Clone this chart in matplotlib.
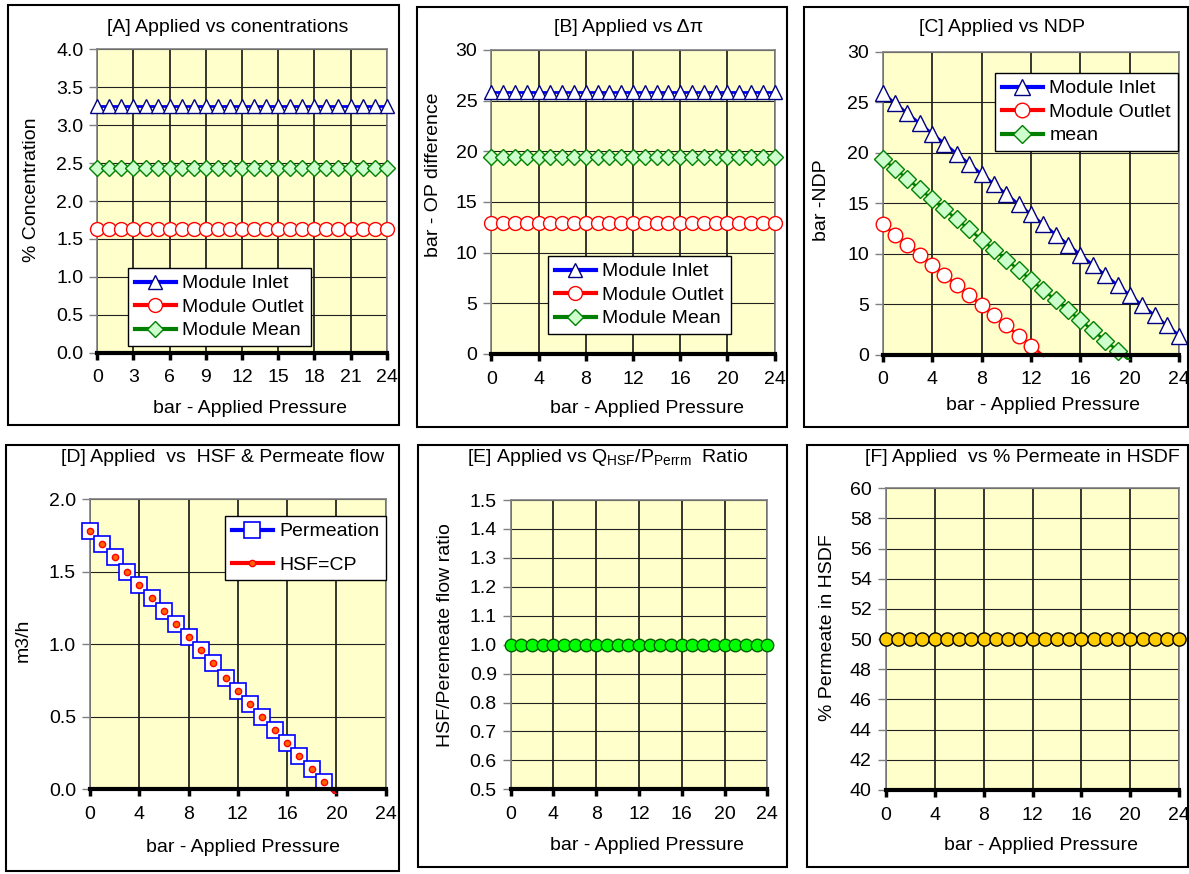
import numpy as np
import matplotlib
matplotlib.use('Agg')
import matplotlib.pyplot as plt
from matplotlib.patches import Rectangle

plt.rcParams['font.family'] = ['Liberation Sans', 'DejaVu Sans']
plt.rcParams['font.size'] = 14

W, H = 1189, 874

## data
pressure = list(range(0, 25))

a_inlet = [3.25] * 25
a_outlet = [1.63] * 25
a_mean = [2.44] * 25

b_inlet = [25.9] * 25
b_outlet = [12.9] * 25
b_mean = [19.4] * 25

c_inlet = [25.9, 24.9, 23.9, 22.9, 21.9, 20.9, 19.9, 18.9, 17.9, 16.9, 15.9, 14.9, 13.9,
           12.9, 11.9, 10.9, 9.9, 8.9, 7.9, 6.9, 5.9, 4.9, 3.9, 2.9, 1.9]
c_outlet = [12.9, 11.9, 10.9, 9.9, 8.9, 7.9, 6.9, 5.9, 4.9, 3.9, 2.9, 1.9, 0.9, -0.1]
c_mean = [19.4, 18.4, 17.4, 16.4, 15.4, 14.4, 13.4, 12.4, 11.4, 10.4, 9.4, 8.4, 7.4,
          6.4, 5.4, 4.4, 3.4, 2.4, 1.4, 0.4, -0.6]

d_perm = [1.78, 1.69, 1.60, 1.50, 1.41, 1.32, 1.23, 1.14, 1.05, 0.96, 0.87, 0.77,
          0.68, 0.59, 0.50, 0.41, 0.32, 0.23, 0.14, 0.05, -0.04]
d_hsf = [1.78, 1.69, 1.60, 1.50, 1.41, 1.32, 1.23, 1.14, 1.05, 0.96, 0.87, 0.77,
         0.68, 0.59, 0.50, 0.41, 0.32, 0.23, 0.14, 0.05, -0.04]

e_ratio = [1.0] * 25
f_percent = [50.0] * 25


def rect(l, r, t, b):
    return [l / W, 1 - b / H, (r - l) / W, (b - t) / H]


def ftext(fig, x, y, s, **kw):
    fig.text(x / W, 1 - y / H, s, ha='center', va='center', **kw)


def frame(fig, l, r, t, b):
    fig.add_artist(Rectangle((l / W, 1 - b / H), (r - l) / W, (b - t) / H,
                             transform=fig.transFigure, fill=False,
                             edgecolor='black', linewidth=1.5))


def style(ax, ylim, ystep, xstep, fmt):
    ax.set_facecolor('#FFFFCC')
    ax.set_xlim(0, 24)
    ax.set_ylim(*ylim)
    ax.set_xticks(np.arange(0, 25, xstep))
    yt = np.arange(ylim[0], ylim[1] + ystep / 2, ystep)
    ax.set_yticks(yt)
    ax.set_yticklabels([fmt.format(v) for v in yt])
    ax.grid(axis='x', color='black', linewidth=1.1)
    ax.grid(axis='y', color='#202020', linewidth=0.8)
    ax.set_axisbelow(True)
    for s in ['top', 'right', 'left']:
        ax.spines[s].set_color('#808080')
        ax.spines[s].set_linewidth(1.2)
    ax.spines['bottom'].set_linewidth(3)
    ax.spines['bottom'].set_zorder(5)
    ax.tick_params(axis='x', direction='out', length=5, width=2.5, pad=7)
    ax.tick_params(axis='y', direction='out', length=6, width=1, color='#808080', pad=4)


def series(ax, x, y, color, marker, mfc, mec, ms, lw=2, mew=1):
    x = np.array(x[:len(y)])
    y = np.array(y)
    # lines may run a little past the thick x axis, as in the original
    clip = Rectangle((-0.1, -0.017), 1.2, 1.1, transform=ax.transAxes)
    ln, = ax.plot(x, y, color=color, lw=lw, zorder=3)
    ln.set_clip_path(clip)
    keep = y >= ax.get_ylim()[0]
    ax.plot(x[keep], y[keep], ls='none', marker=marker, mfc=mfc, mec=mec, ms=ms,
            mew=mew, zorder=4, clip_on=False)
    # legend proxy
    ax.plot([], [], color=color, lw=lw + 1, marker=marker, mfc=mfc, mec=mec, ms=ms,
            mew=mew, label='_h')


def legend(ax, labels, l, t, spacing=0.3):
    hs = [h for h in ax.get_lines() if h.get_label() == '_h']
    ax.legend(handles=hs, labels=labels, loc='upper left',
              bbox_to_anchor=(l / W, 1 - t / H), bbox_transform=ax.figure.transFigure,
              borderaxespad=0, fancybox=False, framealpha=1, edgecolor='black',
              handlelength=2.1, handletextpad=0.35, labelspacing=spacing,
              borderpad=0.35, fontsize=14)


fig = plt.figure(figsize=(W / 100, H / 100), dpi=100)

# panel frames
frame(fig, 8, 399, 5, 425)
frame(fig, 417, 787, 7, 427)
frame(fig, 804, 1188, 7, 427)
frame(fig, 6, 399, 445, 871)
frame(fig, 418, 787, 445, 867)
frame(fig, 807, 1188, 445, 867)

# [A]
ax = fig.add_axes(rect(97.3, 386.7, 49.3, 352.7))
style(ax, (0, 4.0), 0.5, 3, '{:.1f}')
series(ax, pressure, a_inlet, '#0000FF', '^', 'white', '#000080', 10.5)
series(ax, pressure, a_outlet, '#FF0000', 'o', 'white', '#FF0000', 10)
series(ax, pressure, a_mean, '#008000', 'D', '#CCFFCC', '#008000', 8.5)
legend(ax, ['Module Inlet', 'Module Outlet', 'Module Mean'], 128, 268)
ftext(fig, 228, 27, '[A] Applied vs conentrations')
ftext(fig, 32, 190, '% Concentration', rotation=90)
ftext(fig, 250, 408, 'bar - Applied Pressure')

# [B]
ax = fig.add_axes(rect(491.3, 774.7, 50, 354))
style(ax, (0, 30), 5, 4, '{:.0f}')
series(ax, pressure, b_inlet, '#0000FF', '^', 'white', '#000080', 10.5)
series(ax, pressure, b_outlet, '#FF0000', 'o', 'white', '#FF0000', 10)
series(ax, pressure, b_mean, '#008000', 'D', '#CCFFCC', '#008000', 8.5)
legend(ax, ['Module Inlet', 'Module Outlet', 'Module Mean'], 548, 256)
ftext(fig, 629, 27, '[B] Applied vs \u0394\u03c0')
ftext(fig, 433, 175, 'bar - OP difference', rotation=90)
ftext(fig, 647, 408, 'bar - Applied Pressure')

# [C]
ax = fig.add_axes(rect(882.7, 1179.3, 51.7, 354.7))
style(ax, (0, 30), 5, 4, '{:.0f}')
series(ax, pressure, c_inlet, '#0000FF', '^', 'white', '#000080', 11)
series(ax, pressure, c_outlet, '#FF0000', 'o', 'white', '#FF0000', 10.5)
series(ax, pressure, c_mean, '#008000', 'D', '#CCFFCC', '#008000', 9.5)
legend(ax, ['Module Inlet', 'Module Outlet', 'mean'], 995, 73)
ftext(fig, 1002, 27, '[C] Applied vs NDP')
ftext(fig, 822, 200, 'bar -NDP', rotation=90)
ftext(fig, 1043, 405, 'bar - Applied Pressure')

# [D]
ax = fig.add_axes(rect(90, 385.7, 499, 789.3))
style(ax, (0, 2.0), 0.5, 4, '{:.1f}')
series(ax, pressure, d_perm, '#0000FF', 's', 'white', '#0000FF', 12, mew=1.2)
series(ax, pressure, d_hsf, '#FF0000', 'o', '#FF6600', '#FF0000', 4.5)
legend(ax, ['Permeation', 'HSF=CP'], 225, 516, spacing=0.8)
ftext(fig, 223, 457, '[D] Applied  vs  HSF & Permeate flow')
ftext(fig, 23, 640, 'm3/h', rotation=90)
ftext(fig, 243, 847, 'bar - Applied Pressure')

# [E]
ax = fig.add_axes(rect(510.7, 767.3, 500, 789.3))
style(ax, (0.5, 1.5), 0.1, 4, '{:.1f}')
series(ax, pressure, e_ratio, '#008000', 'o', '#00FF00', '#006000', 9)
ftext(fig, 608, 457, r'[E] Applied vs Q$\mathregular{_{HSF}}$/P$\mathregular{_{Perrm}}$  Ratio')
ftext(fig, 445, 635, 'HSF/Peremeate flow ratio', rotation=90)
ftext(fig, 647, 845, 'bar - Applied Pressure')

# [F]
ax = fig.add_axes(rect(885.7, 1179.3, 488.3, 790))
style(ax, (40, 60), 2, 4, '{:.0f}')
series(ax, pressure, f_percent, '#FF0000', 'o', '#FFCC00', 'black', 9.5)
ftext(fig, 1022, 457, '[F] Applied  vs % Permeate in HSDF')
ftext(fig, 827, 628, '% Permeate in HSDF', rotation=90)
ftext(fig, 1041, 845, 'bar - Applied Pressure')

plt.savefig('out.png', dpi=100)
